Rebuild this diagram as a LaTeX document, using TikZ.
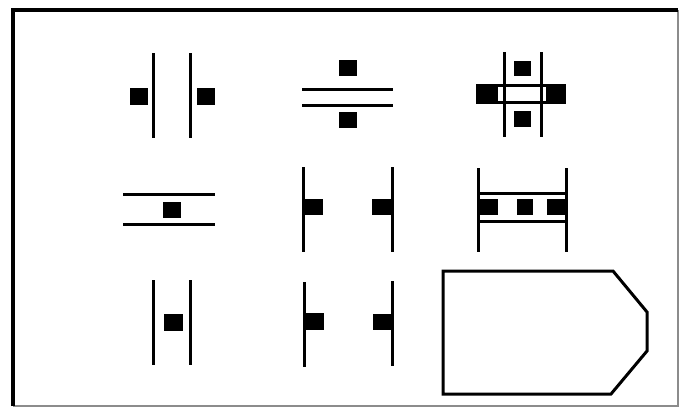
\documentclass[tikz,border=0pt]{standalone}
\begin{document}
\begin{tikzpicture}[x=1pt,y=-1pt,
  ln/.style={line width=3pt},
  sq/.style={fill=black}]
\useasboundingbox (0,0) rectangle (680,408);
% frame
\draw[line width=1.2pt,black!45] (678,10) -- (678,406) -- (13,406);
\draw[line width=3.5pt] (13,406) -- (13,10) -- (678,10);
% row 1, col 1
\draw[ln] (153,53) -- (153,138);
\draw[ln] (190,53) -- (190,138);
\fill[sq] (130,88) rectangle (148,105);
\fill[sq] (197,88) rectangle (215,105);
% row 1, col 2
\draw[ln] (302,89) -- (393,89);
\draw[ln] (302,105) -- (393,105);
\fill[sq] (339,60) rectangle (357,76);
\fill[sq] (339,112) rectangle (357,128);
% row 1, col 3
\fill[sq] (476,84) rectangle (498,103);
\fill[sq] (546,84) rectangle (566,103);
\draw[ln] (476,85) -- (566,85);
\draw[ln] (476,102) -- (566,102);
\draw[ln] (504,52) -- (504,137);
\draw[ln] (541,52) -- (541,137);
\fill[sq] (514,61) rectangle (531,76);
\fill[sq] (514,111) rectangle (531,127);
% row 2, col 1
\draw[ln] (123,194) -- (215,194);
\draw[ln] (123,224) -- (215,224);
\fill[sq] (163,202) rectangle (181,218);
% row 2, col 2
\draw[ln] (303,167) -- (303,252);
\fill[sq] (303,199) rectangle (323,215);
\draw[ln] (392,167) -- (392,252);
\fill[sq] (372,199) rectangle (392,215);
% row 2, col 3
\draw[ln] (478,168) -- (478,252);
\draw[ln] (566,168) -- (566,252);
\draw[ln] (478,193) -- (566,193);
\draw[ln] (478,221) -- (566,221);
\fill[sq] (480,199) rectangle (498,215);
\fill[sq] (517,199) rectangle (533,215);
\fill[sq] (547,199) rectangle (565,215);
% row 3, col 1
\draw[ln] (153,280) -- (153,365);
\draw[ln] (190,280) -- (190,365);
\fill[sq] (164,314) rectangle (183,331);
% row 3, col 2
\draw[ln] (304,282) -- (304,367);
\fill[sq] (304,313) rectangle (324,330);
\draw[ln] (392,281) -- (392,366);
\fill[sq] (373,314) rectangle (392,330);
% pentagon
\draw[ln,line join=miter] (443,271) -- (613,271) -- (647,312) -- (647,351) -- (611,394) -- (443,394) -- cycle;
\end{tikzpicture}
\end{document}
